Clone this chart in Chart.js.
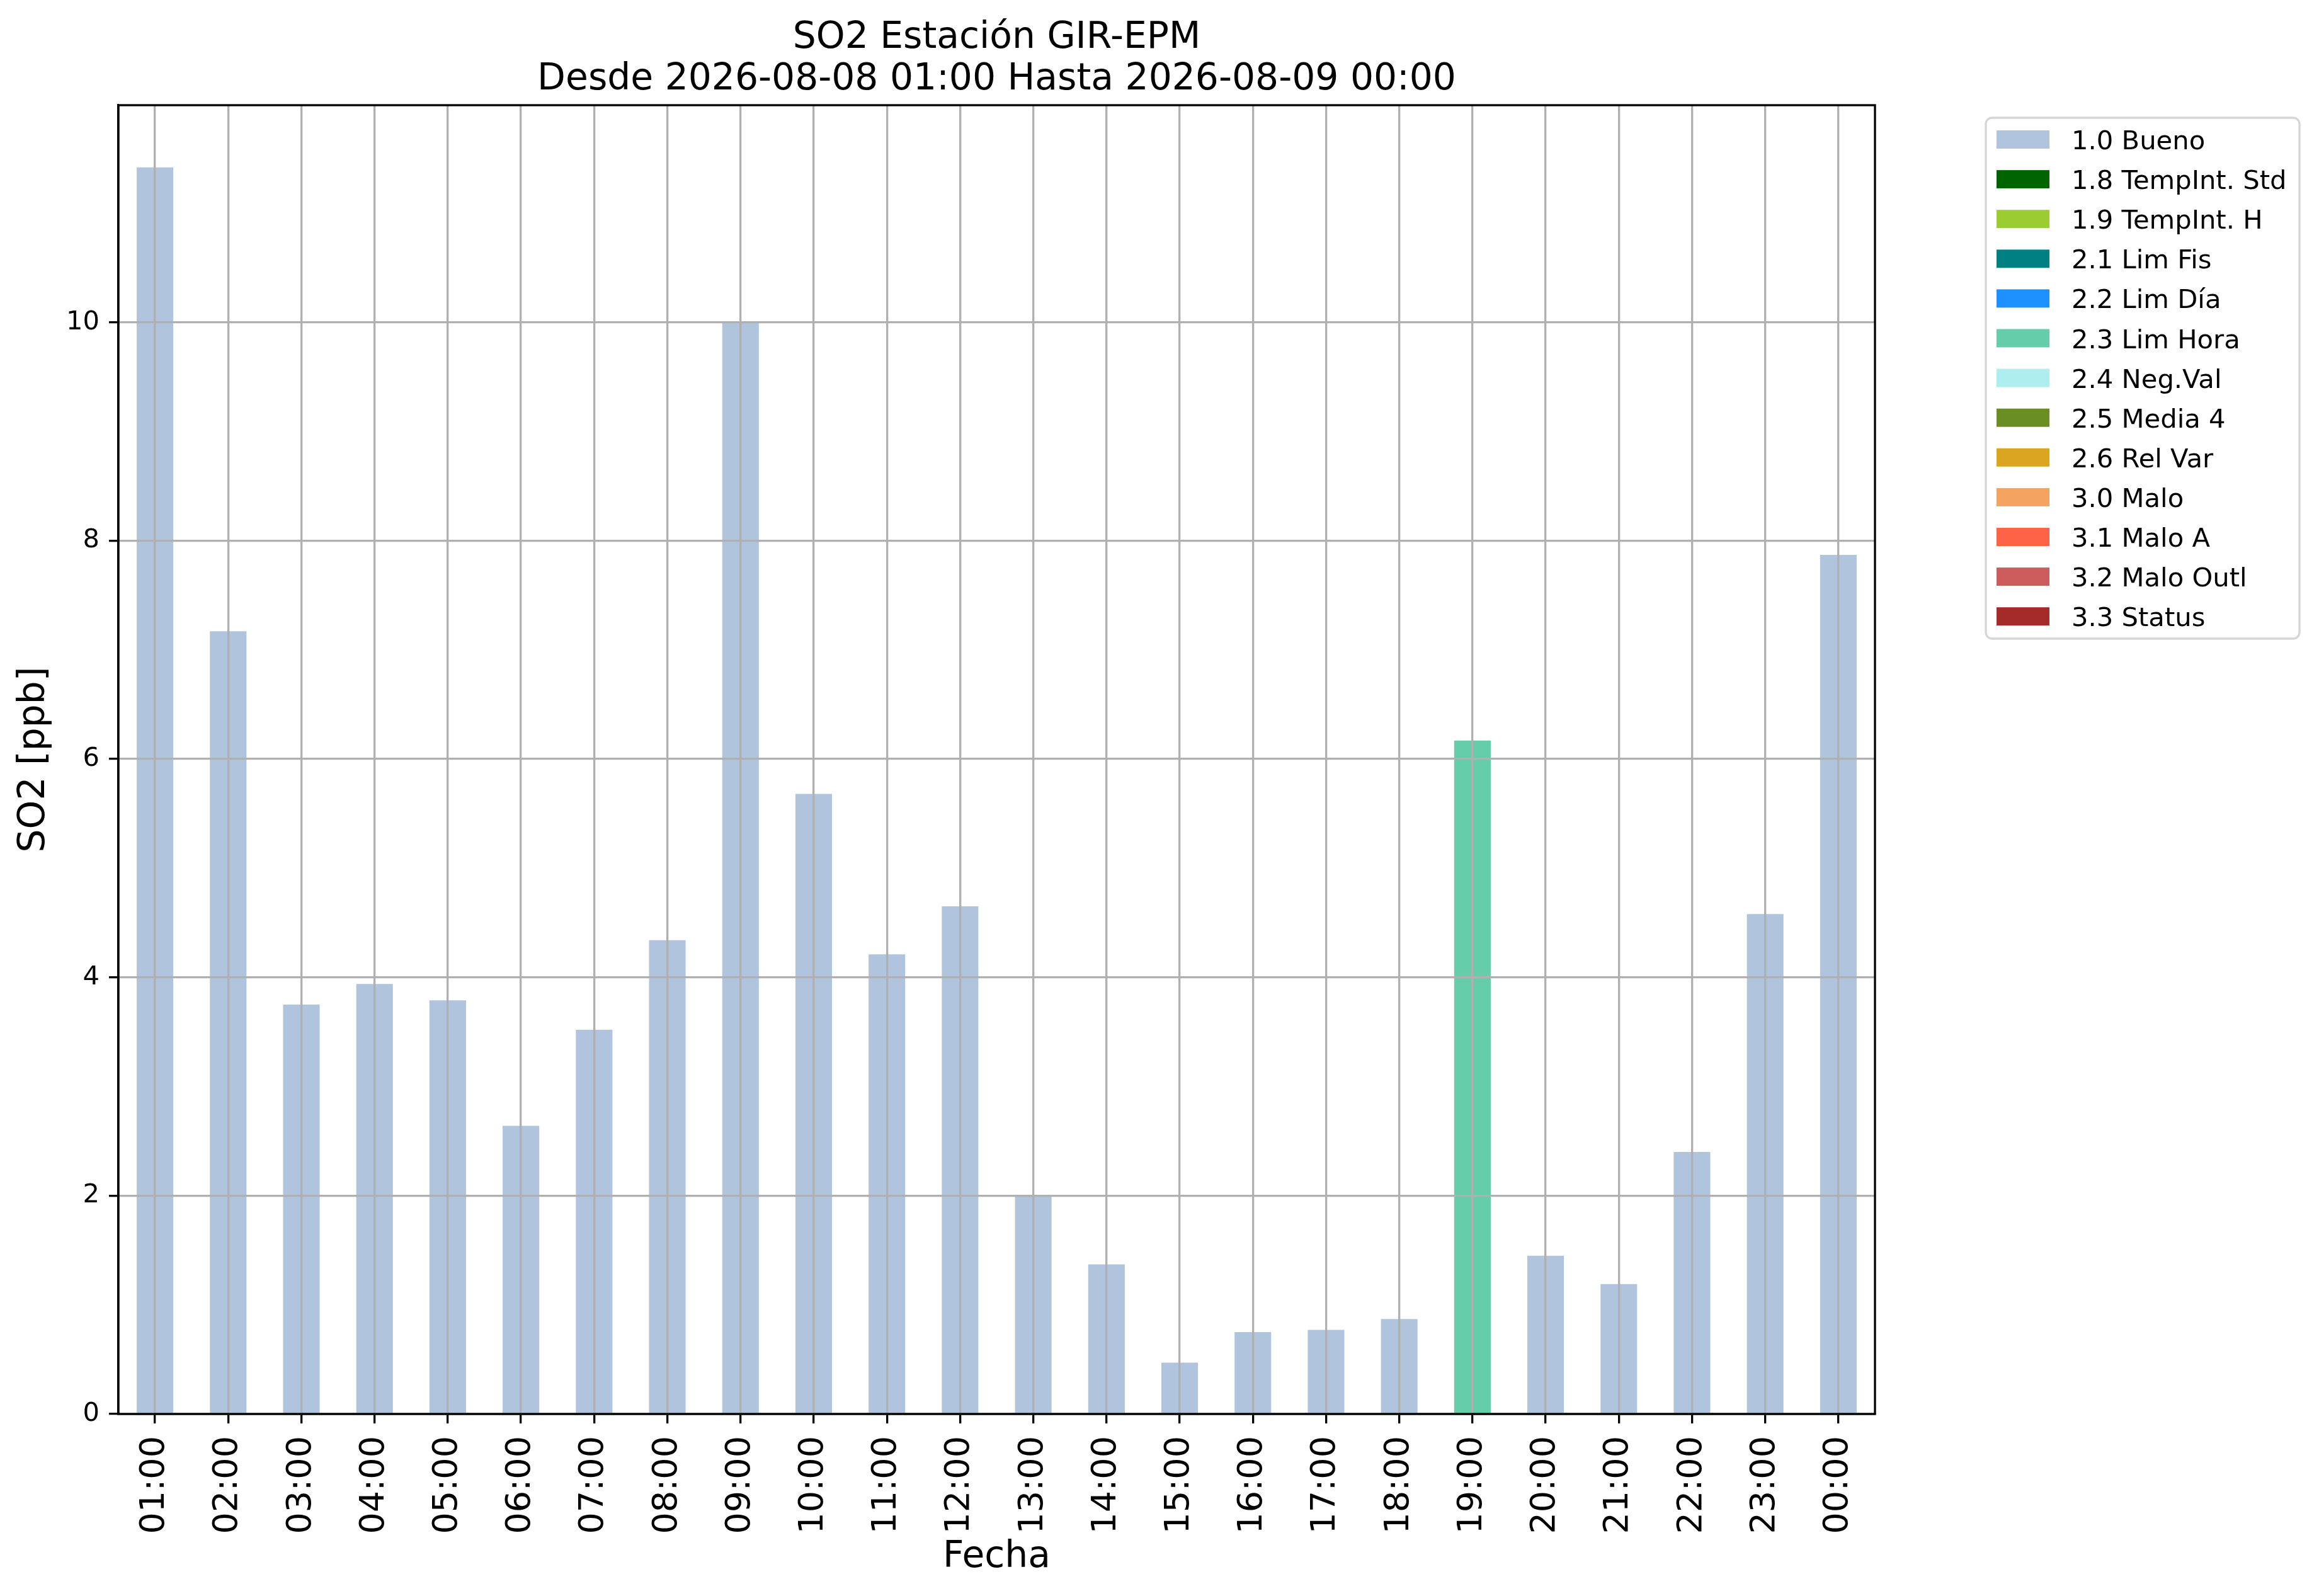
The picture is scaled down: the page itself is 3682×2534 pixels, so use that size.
<!DOCTYPE html>
<html lang="es">
<head>
<meta charset="utf-8">
<title>SO2 Estación GIR-EPM</title>
<script src="https://cdn.jsdelivr.net/npm/chart.js@4.4.1/dist/chart.umd.min.js"></script>
<style>
  html, body { margin: 0; padding: 0; background: #fff; }
  canvas { display: block; }
</style>
</head>
<body>
<canvas id="grafico" width="3682" height="2534"></canvas>
<script>
// Horas del eje x
const horas = ["01:00", "02:00", "03:00", "04:00", "05:00", "06:00", "07:00", "08:00",
  "09:00", "10:00", "11:00", "12:00", "13:00", "14:00", "15:00", "16:00",
  "17:00", "18:00", "19:00", "20:00", "21:00", "22:00", "23:00", "00:00"];

// Concentración de SO2 [ppb] por hora
const valoresSO2 = [11.42, 7.17, 3.75, 3.94, 3.79, 2.64, 3.52, 4.34,
  10.0, 5.68, 4.21, 4.65, 2.0, 1.37, 0.47, 0.75,
  0.77, 0.87, 6.17, 1.45, 1.19, 2.40, 4.58, 7.87];

// Bandera de calidad de cada dato
const banderasDato = ["1.0", "1.0", "1.0", "1.0", "1.0", "1.0", "1.0", "1.0",
  "1.0", "1.0", "1.0", "1.0", "1.0", "1.0", "1.0", "1.0",
  "1.0", "1.0", "2.3", "1.0", "1.0", "1.0", "1.0", "1.0"];

// Banderas posibles, nombres y colores
const codigosBandera = ["1.0", "1.8", "1.9", "2.1", "2.2", "2.3", "2.4", "2.5", "2.6", "3.0", "3.1", "3.2", "3.3"];
const nombresBandera = ["Bueno", "TempInt. Std", "TempInt. H", "Lim Fis", "Lim Día", "Lim Hora",
  "Neg.Val", "Media 4", "Rel Var", "Malo", "Malo A", "Malo Outl", "Status"];
const coloresBandera = ["#b0c4de", "#006400", "#9acd32", "#008080", "#1e90ff", "#66cdaa",
  "#afeeee", "#6b8e23", "#daa520", "#f4a460", "#ff6347", "#cd5c5c", "#a52a2a"];

// Marcas del eje y
const ticksY = [0, 2, 4, 6, 8, 10];

// Título en dos líneas
const tituloLineas = ["SO2 Estación GIR-EPM", "Desde 2026-08-08 01:00 Hasta 2026-08-09 00:00"];

const fuente = "'DejaVu Sans', sans-serif";

// Un dataset por bandera, apilados para que cada hora tenga una sola barra
const datasets = codigosBandera.map((codigo, i) => ({
  label: codigo + " " + nombresBandera[i],
  data: valoresSO2.map((v, j) => (banderasDato[j] === codigo ? v : null)),
  backgroundColor: coloresBandera[i],
  borderWidth: 0,
  barPercentage: 0.5,
  categoryPercentage: 1.0,
}));

// Marco, título y leyenda al estilo matplotlib
const marcoYTextos = {
  id: "marcoYTextos",
  afterDraw(chart) {
    const { ctx, chartArea } = chart;
    ctx.save();

    // Marco completo del área de datos
    ctx.strokeStyle = "#000";
    ctx.lineWidth = 3.3;
    ctx.strokeRect(chartArea.left, chartArea.top,
      chartArea.right - chartArea.left, chartArea.bottom - chartArea.top);

    // Título centrado sobre el área de datos
    const cx = (chartArea.left + chartArea.right) / 2;
    ctx.fillStyle = "#000";
    ctx.font = "58.3px " + fuente;
    ctx.textAlign = "center";
    ctx.textBaseline = "alphabetic";
    ctx.fillText(tituloLineas[0], cx, 76);
    ctx.fillText(tituloLineas[1], cx, 142);

    // Leyenda a la derecha
    const lx = chartArea.right + 176;
    const ly = 187;
    const ancho = 498;
    const alto = 827;
    ctx.fillStyle = "#fff";
    ctx.strokeStyle = "#d6d6d6";
    ctx.lineWidth = 3.3;
    ctx.beginPath();
    ctx.roundRect(lx, ly, ancho, alto, 10);
    ctx.fill();
    ctx.stroke();

    ctx.font = "41.7px " + fuente;
    ctx.textAlign = "left";
    chart.data.datasets.forEach((ds, i) => {
      const y = 207 + i * 63.1;
      ctx.fillStyle = ds.backgroundColor;
      ctx.fillRect(lx + 17, y, 84, 29);
      ctx.fillStyle = "#000";
      ctx.fillText(ds.label, lx + 136, y + 30);
    });

    ctx.restore();
  },
};

new Chart(document.getElementById("grafico"), {
  type: "bar",
  data: { labels: horas, datasets: datasets },
  options: {
    responsive: false,
    animation: false,
    devicePixelRatio: 1,
    layout: { padding: { top: 167, right: 705, left: 0, bottom: 0 } },
    plugins: {
      legend: { display: false },
      title: { display: false },
      tooltip: { enabled: false },
    },
    scales: {
      x: {
        stacked: true,
        offset: true,
        grid: { z: 1, offset: false, color: "#b0b0b0", lineWidth: 3.3, tickColor: "#000", tickWidth: 3.3, tickLength: 15 },
        border: { z: 1, color: "#000", width: 3.3 },
        ticks: {
          autoSkip: false,
          minRotation: 90,
          maxRotation: 90,
          padding: 20,
          color: "#000",
          font: { family: fuente, size: 54 },
        },
        title: {
          display: true,
          text: "Fecha",
          color: "#000",
          font: { family: fuente, size: 58.3 },
          padding: { top: 0, bottom: 26 },
        },
        afterFit(scale) {
          scale.height = 289;
        },
      },
      y: {
        stacked: true,
        min: 0,
        max: 11.99,
        afterBuildTicks(scale) {
          scale.ticks = ticksY.map((v) => ({ value: v }));
        },
        grid: { z: 1, color: "#b0b0b0", lineWidth: 3.3, tickColor: "#000", tickWidth: 3.3, tickLength: 15 },
        border: { z: 1, color: "#000", width: 3.3 },
        ticks: {
          padding: 15,
          color: "#000",
          font: { family: fuente, size: 41.7 },
        },
        title: {
          display: true,
          text: "SO2 [ppb]",
          color: "#000",
          font: { family: fuente, size: 58.3 },
          padding: { top: 20, bottom: 0 },
        },
        afterFit(scale) {
          scale.width = 188;
        },
      },
    },
  },
  plugins: [marcoYTextos],
});
</script>
</body>
</html>
